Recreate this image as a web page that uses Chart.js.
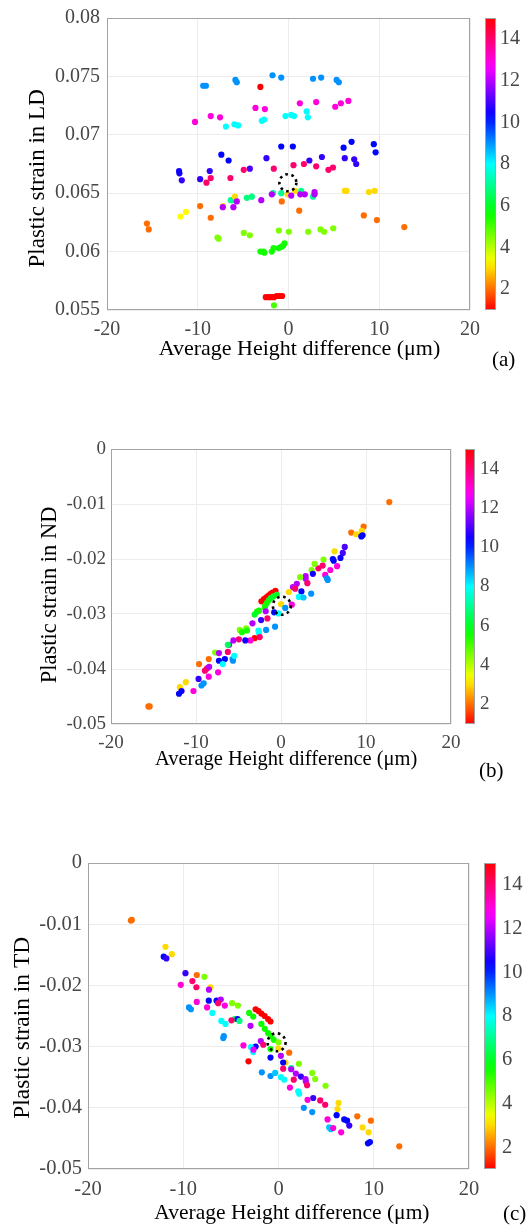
<!DOCTYPE html>
<html>
<head>
<meta charset="utf-8">
<script src="https://cdn.jsdelivr.net/npm/chart.js@4.4.1/dist/chart.umd.min.js"></script>
<style>
  html, body { margin: 0; padding: 0; background: #fff; }
  body { width: 527px; height: 1228px; position: relative; overflow: hidden; font-family: 'Liberation Serif', serif; }
  canvas { position: absolute; }
  .tag { position: absolute; font-size: 21px; line-height: 21px; color: #000; white-space: nowrap; }
</style>
</head>
<body>
<canvas id="ldChart"></canvas><canvas id="ldBar"></canvas>
<canvas id="ndChart"></canvas><canvas id="ndBar"></canvas>
<canvas id="tdChart"></canvas><canvas id="tdBar"></canvas>
<div class="tag" style="left:492px;top:349px">(a)</div>
<div class="tag" style="left:479px;top:760px">(b)</div>
<div class="tag" style="left:503px;top:1203px">(c)</div>
<script>
'use strict';

// colour scale (colorbar units)
const cbMin = 1;
const cbMax = 15;
const cbTicks = [2, 4, 6, 8, 10, 12, 14];

const xLabel = 'Average Height difference (\u03bcm)';
const xRange = [-20, 20];

// (a) strain in LD
const ldX = [-9.4, -9.1, -5.85, -5.7, -1.76, -0.8, 2.7, 3.6, 5.3, 5.55, -3.1,
  -10.3, -8.57, -7.54, -3.64, -2.6, 1.25, 3.05, 5.15, 5.77, 6.6,
  -6.9, -5.96, -5.55, -2.94, -2.68, -0.33, 0.3, 0.62, 2.0, 2.13,
  -0.8, 0.48, 6.07, 6.95, 9.4, 9.6, -7.4, -6.6, -2.43, 2.3, 3.68, 6.2, 7.24, 7.46, -4.26, -12.06, -12.02, -11.76, -9.74, -8.68,
  -4.93, -1.62, 0.55, 1.7, 3.05, 4.4, 4.9, -6.4, -9.04, -8.57,
  -1.7, -0.8, 1.4, 2.7, -6.36, -6.1, -4.6, -4.04,
  -5.9, -0.1, 0.73, 6.2, 6.4, 8.86, 9.5, -7.2,
  -5.7, -7.24, -6.07, -3.0, -1.84, 0.3, 1.3, 1.8, 2.87, 2.87,
  -0.74, -9.74, -8.57, 1.18, 8.3, 9.74, 12.76, -15.6, -15.4,
  -11.9, -11.3,
  -7.83, -7.7, -4.93, -4.26, -1.07, 0.04, 2.17, 3.53, 3.93, 4.93,
  -3.1, -2.76, -2.65, -1.84, -1.65, -1.07, -0.8, -0.6, -0.44, -1.6,
  -2.5, -2.2, -1.9, -1.6, -1.3, -1.0, -0.7];
const ldY = [0.0742, 0.0742, 0.0747, 0.0745, 0.0751, 0.0749, 0.0748, 0.0749, 0.0747, 0.0745, 0.0741,
  0.0711, 0.0716, 0.0715, 0.0723, 0.0722, 0.0727, 0.0728, 0.0724, 0.0727, 0.0729,
  0.0707, 0.0709, 0.0708, 0.0712, 0.0713, 0.0716, 0.0717, 0.0716, 0.072, 0.0715,
  0.069, 0.069, 0.0689, 0.0694, 0.0692, 0.0685, 0.0683, 0.0678, 0.068, 0.0678, 0.0681, 0.068, 0.0679, 0.0675, 0.0671, 0.0669, 0.0667, 0.0661, 0.0662, 0.0669,
  0.067, 0.0671, 0.0674, 0.0675, 0.0673, 0.067, 0.0672, 0.0663, 0.0659, 0.0663,
  0.065, 0.065, 0.0652, 0.0647, 0.0644, 0.0644, 0.0646, 0.0647,
  0.0647, 0.0649, 0.0652, 0.0652, 0.0652, 0.0651, 0.0652, 0.0639,
  0.0643, 0.0638, 0.0638, 0.0644, 0.0649, 0.0648, 0.0649, 0.0649, 0.0651, 0.0649,
  0.0643, 0.0639, 0.0629, 0.0635, 0.0631, 0.0627, 0.0621, 0.0624, 0.0619,
  0.063, 0.0634,
  0.0612, 0.0611, 0.0616, 0.0614, 0.0618, 0.0617, 0.0617, 0.0619, 0.0617, 0.062,
  0.06, 0.06, 0.0599, 0.06, 0.0603, 0.0603, 0.0604, 0.0605, 0.0607, 0.0554,
  0.0561, 0.0561, 0.0561, 0.0561, 0.0562, 0.0562, 0.0562];
const ldC = [9, 9, 9, 9, 9, 9, 9, 9, 9, 9, 15,
  13, 13, 13, 13, 13, 13, 13, 13, 13, 13,
  8, 8, 8, 8, 8, 8, 8, 8, 8, 8,
  10.3, 10.3, 10.3, 10.3, 10.3, 10.3, 10.3, 10.3, 10.8, 10.8, 10.8, 10.8, 10.8, 10.8, 11, 10.5, 10.5, 10.8, 10.8, 10.8,
  14, 14, 14, 14, 14, 14, 14, 14, 14, 14,
  7, 7, 7, 7, 7, 7, 6.8, 6.8,
  3, 3, 3, 3, 3, 3, 3, 3,
  12, 12, 12, 12, 12, 12, 12, 12, 12, 12,
  2, 2, 2, 2, 2, 2, 2, 2, 2,
  3.3, 3.3,
  4.5, 4.5, 4.5, 4.5, 4.5, 4.5, 4.5, 4.5, 4.5, 4.5,
  5.5, 5.5, 5.5, 5.5, 5.5, 5.5, 5.5, 5.5, 5.5, 5,
  1, 1, 1, 1, 1, 1, 1];

// (b) strain in ND
const ndX = [12.74, 8.26, 9.72, 8.85, 9.5, 9.45, 9.6, 7.5, 7.27, 7.0, 6.3, 6.1, 6.2, 6.6, 5.8, 5.2, 5.4, 5.5, 5.0, 4.9,
  4.4, 3.95, 3.6, 3.75, 2.9, 2.9, 3.1, 2.25, 2.4, 2.1, 2.65, 3.55, 1.86, 1.4, 1.67, 0.92, 1.27,
  -2.3, -2.0, -1.75, -1.5, -1.25, -1.0, -0.65,
  -2.85, -2.6, -3.1, -1.86, -1.67, -1.43, -1.2, -0.9, -0.5, -1.9,
  -1.8, -3.36, -2.34, -1.6, 0, -0.8, 0.5, -0.3, -0.7, -1.75, -2.65, -2.6,
  -4.85, -4.1, -4.6, -4.0, -3.1, -2.5, -3.6, -4.2, -4.96, -5.6, -6.1, -6.25, -6.25, -6.6, -7.3, -6.85, -5.7, -5.65, -5.5, -7.75, -7.3, -7.4,
  -9.64, -8.5, -8.95, -8.7, -8.45, -8.5, -9.36, -9.1, -9.7, -10.3, -11.2, -11.9, -11.7, -12.0, -15.45, -15.6];
const ndY = [-0.00965, -0.0152, -0.0141, -0.0155, -0.0149, -0.0159, -0.0157, -0.0178, -0.0189, -0.0198, -0.0186, -0.02, -0.0203, -0.0213, -0.022, -0.0229, -0.0235, -0.0238, -0.0201, -0.0212,
  -0.0217, -0.0209, -0.022, -0.0227, -0.0231, -0.0236, -0.0244, -0.0233, -0.0259, -0.0269, -0.027, -0.0263, -0.0245, -0.0251, -0.0254, -0.026, -0.0283,
  -0.0277, -0.0273, -0.027, -0.0267, -0.0264, -0.0261, -0.0258,
  -0.0296, -0.0294, -0.0301, -0.0285, -0.028, -0.0275, -0.0271, -0.0268, -0.0265, -0.0288,
  -0.0295, -0.0317, -0.0311, -0.0308, -0.0282, -0.0297, -0.0289, -0.0299, -0.0323, -0.0329, -0.033, -0.0334,
  -0.0329, -0.0326, -0.0333, -0.033, -0.0344, -0.0342, -0.0348, -0.0348, -0.0346, -0.0348, -0.0356, -0.0356, -0.0369, -0.0382, -0.0385, -0.0391, -0.0382, -0.0385, -0.0376, -0.037, -0.0371, -0.0406,
  -0.0391, -0.0382, -0.0403, -0.0399, -0.0396, -0.0414, -0.043, -0.0426, -0.0418, -0.044, -0.0424, -0.0433, -0.044, -0.0445, -0.0468, -0.0468];
const ndC = [2, 2, 2, 3, 3, 10.3, 10.3, 11, 11, 10.5, 3, 10.3, 10.3, 13, 13, 13, 9, 9, 4.5, 14,
  14, 4.5, 4.5, 10.5, 12, 12, 14, 4.5, 10.3, 8, 8.5, 9, 12, 12, 14, 3, 13,
  15, 15, 15, 15, 15, 15, 15,
  5.5, 5.5, 6, 5.5, 5.5, 5.5, 6, 6, 6, 5.5,
  12, 12, 10.8, 14, 3, 10.3, 9, 8, 9, 9, 8, 8,
  4.5, 4.5, 5.5, 5.5, 15, 14, 13, 10.5, 14, 12, 12, 6.5, 14, 10.3, 10.3, 8, 9, 9, 8, 4.5, 12, 13,
  2, 2, 14, 14, 12, 13, 9, 9, 10.8, 13, 3, 3, 10.5, 10.3, 2, 2];

// (c) strain in TD
const tdX = [-15.5, -15.4, -11.87, -11.2, -12.05, -11.77, -9.77, -8.58, -7.78, -9.04, -8.62, -10.26, -7.14, -7.3,
  -7.32, -6.5, -6.06, -6.34, -8.58, -7.5, -5.64, -9.4, -9.2, -6.94,
  -4.87, -4.27, -4.6, -4.3, -4.1, -4.94, -6.0, -5.57, -5.74, -5.8,
  -2.4, -2.1, -1.8, -1.45, -1.1, -0.84,
  -3.08, -2.66, -1.8, -1.44, -1.09, -0.74, -0.5, -0.84,
  0, -0.03, 0.74,
  -2.94, -1.86, -1.6, -2.4, -3.68, -2.9, -2.66, -2.63, -3.15,
  -0.84, 0.25, 0.49, 1.12, 0.49, 1.33, 1.33,
  -1.75, -0.84, -0.35, 0.25, 0.6,
  1.82, 2.35, 2.84, 2.87, 3.0, 1.6, 2.14, 3.54, 3.85, 4.94,
  1.2, 2.07, 2.17, 3.64, 3.05, 4.38, 4.9, 2.66, 3.54,
  6.3, 6.2, 6.1, 5.15, 5.32, 5.5, 5.74, 6.58, 6.9, 7.2, 7.43, 8.27, 9.7, 8.83, 9.46, 9.39, 9.6, 12.68];
const tdY = [-0.0094, -0.0093, -0.0137, -0.0149, -0.0153, -0.0156, -0.018, -0.0183, -0.0186, -0.0193, -0.0203, -0.0199, -0.0203, -0.0207,
  -0.0225, -0.0225, -0.0223, -0.0229, -0.0227, -0.0236, -0.0233, -0.0236, -0.0239, -0.0245,
  -0.0229, -0.0233, -0.0255, -0.0255, -0.0258, -0.0257, -0.0258, -0.0263, -0.0283, -0.0286,
  -0.0239, -0.0242, -0.0246, -0.025, -0.0255, -0.0259,
  -0.0245, -0.0251, -0.0263, -0.0271, -0.0278, -0.0283, -0.0289, -0.0304,
  -0.0293, -0.0303, -0.0326,
  -0.0266, -0.0291, -0.0297, -0.03, -0.0298, -0.0301, -0.0309, -0.0305, -0.0324,
  -0.0318, -0.0315, -0.0326, -0.031, -0.0336, -0.0335, -0.0337,
  -0.0342, -0.0348, -0.0343, -0.035, -0.0354,
  -0.0344, -0.0349, -0.0353, -0.0357, -0.0363, -0.0354, -0.0328, -0.0343, -0.0353, -0.0364,
  -0.0367, -0.0373, -0.0377, -0.0384, -0.0387, -0.0388, -0.0395, -0.04, -0.0407,
  -0.0392, -0.0402, -0.0412, -0.0419, -0.0432, -0.0435, -0.0433, -0.044, -0.0419, -0.0421, -0.0429, -0.0414, -0.0421, -0.0432, -0.044, -0.0458, -0.0456, -0.0463];
const tdC = [2, 2, 3, 3, 10.3, 10.8, 10.8, 2, 4.5, 14, 14, 13, 3, 12,
  10.3, 10.3, 12, 14, 13, 13, 13, 9, 9, 8,
  4.5, 4.5, 6.5, 10.5, 6.8, 14, 8, 8, 9, 9,
  15, 15, 15, 15, 15, 15,
  5.5, 5.5, 5.5, 5.5, 5.5, 5.5, 5.5, 5.5,
  4.5, 3, 3,
  12, 12, 14, 10.5, 13, 8, 8, 12.5, 15,
  10.3, 12, 10.3, 2, 14, 6.8, 12,
  9, 9, 8.5, 8, 8,
  12, 10.8, 12, 12, 14, 14, 4.5, 4.5, 4.5, 4.5,
  13, 8, 8, 10.8, 13, 14, 14, 9, 9,
  3, 3, 10.3, 13, 8.5, 8.5, 13, 13, 10.3, 10.3, 10.8, 2, 2, 3, 3, 10.3, 10.3, 2];

// dotted reference circle (data coords)
const ldMark = [-0.07, 0.0659];
const ndMark = [0.1, -0.0285];
const tdMark = [-0.2, -0.0293];

const FONT = "'Liberation Serif', 'Times New Roman', serif";
const TICK_COLOR = '#474747';
const FRAME_COLOR = '#a3a3a3';
const NBSP = '\u00a0';

// matlab hsv colormap
function hsvColor(v) {
  const h = (v - cbMin) / (cbMax - cbMin) * 360;
  return 'hsl(' + h.toFixed(1) + ', 100%, 50%)';
}

function fmt(v) {
  return String(+Number(v).toFixed(4));
}

const framePlugin = {
  id: 'frame',
  afterDraw(chart) {
    const {ctx, chartArea: a} = chart;
    ctx.save();
    ctx.strokeStyle = FRAME_COLOR;
    ctx.lineWidth = 1;
    ctx.strokeRect(a.left + 0.5, a.top + 0.5, a.width - 1, a.height - 1);
    ctx.restore();
  }
};

const markerPlugin = {
  id: 'marker',
  afterDatasetsDraw(chart, args, opts) {
    if (!opts || !opts.at) return;
    const ctx = chart.ctx;
    const cx = chart.scales.x.getPixelForValue(opts.at[0]);
    const cy = chart.scales.y.getPixelForValue(opts.at[1]);
    ctx.save();
    ctx.strokeStyle = '#000';
    ctx.lineWidth = 2.6;
    ctx.setLineDash([2.6, 3.6]);
    ctx.beginPath();
    ctx.arc(cx, cy, opts.r, 0, Math.PI * 2);
    ctx.stroke();
    ctx.restore();
  }
};

const cbFillPlugin = {
  id: 'cbFill',
  beforeDatasetsDraw(chart) {
    const {ctx, chartArea: a} = chart;
    const y = chart.scales.y;
    const g = ctx.createLinearGradient(0, y.getPixelForValue(cbMin), 0, y.getPixelForValue(cbMax));
    for (let i = 0; i <= 28; i++) {
      g.addColorStop(i / 28, hsvColor(cbMin + (cbMax - cbMin) * i / 28));
    }
    ctx.save();
    ctx.fillStyle = g;
    ctx.fillRect(a.left, a.top, a.width, a.height);
    ctx.strokeStyle = FRAME_COLOR;
    ctx.lineWidth = 1;
    ctx.strokeRect(a.left + 0.5, a.top + 0.5, a.width - 1, a.height - 1);
    ctx.restore();
  }
};

function place(canvas, box) {
  canvas.width = box.w;
  canvas.height = box.h;
  canvas.style.left = box.left + 'px';
  canvas.style.top = box.top + 'px';
  canvas.style.width = box.w + 'px';
  canvas.style.height = box.h + 'px';
}

function noPad(s) {
  s.paddingLeft = s.paddingRight = s.paddingTop = s.paddingBottom = 0;
}

function buildPanel(p) {
  const main = document.getElementById(p.id + 'Chart');
  place(main, p.box);
  const points = p.xs.map((x, i) => ({x: x, y: p.ys[i]}));
  // the source figure sets its axis titles a little off-centre
  const xTitle = NBSP.repeat(p.xShift) + xLabel;
  const yTitle = p.yLabel + NBSP.repeat(p.yShift);

  new Chart(main, {
    type: 'scatter',
    data: {
      datasets: [{
        data: points,
        pointRadius: 3.1,
        pointBorderWidth: 0,
        pointBackgroundColor: p.cs.map(hsvColor)
      }]
    },
    options: {
      responsive: false,
      animation: false,
      events: [],
      layout: {padding: {left: 0, top: p.padTop, right: p.padRight, bottom: 0}},
      plugins: {
        legend: {display: false},
        tooltip: {enabled: false},
        marker: {at: p.mark, r: p.markR}
      },
      scales: {
        x: {
          type: 'linear', min: xRange[0], max: xRange[1],
          grid: {color: '#ececec', drawTicks: false},
          border: {display: false},
          ticks: {stepSize: 10, padding: p.xTickPad, color: TICK_COLOR, font: {family: FONT, size: p.tickSize}, callback: fmt, maxRotation: 0},
          title: {display: true, text: xTitle, color: '#000', font: {family: FONT, size: p.xTitleSize, lineHeight: 1}, padding: {top: 0, bottom: p.xTitlePad}},
          afterFit: s => { s.height = p.xHeight; noPad(s); }
        },
        y: {
          type: 'linear', min: p.yRange[0], max: p.yRange[1],
          grid: {color: '#ececec', drawTicks: false},
          border: {display: false},
          ticks: {stepSize: p.yStep, padding: p.yTickPad, color: TICK_COLOR, font: {family: FONT, size: p.tickSize}, callback: fmt},
          title: {display: true, text: yTitle, color: '#000', font: {family: FONT, size: p.yTitleSize, lineHeight: 1}, padding: {top: p.yTitlePad, bottom: 0}},
          afterFit: s => { s.width = p.yWidth; noPad(s); }
        }
      }
    },
    plugins: [framePlugin, markerPlugin]
  });

  const bar = document.getElementById(p.id + 'Bar');
  place(bar, p.cbBox);
  new Chart(bar, {
    type: 'scatter',
    data: {datasets: []},
    options: {
      responsive: false,
      animation: false,
      events: [],
      layout: {padding: {left: 5, top: p.padTop, right: 0, bottom: p.xHeight + p.box.h - p.cbBox.h}},
      plugins: {legend: {display: false}, tooltip: {enabled: false}},
      scales: {
        x: {display: false, min: 0, max: 1},
        y: {
          position: 'right', min: cbMin, max: cbMax,
          grid: {display: false, drawTicks: false},
          border: {display: false},
          ticks: {padding: p.cbTickPad, color: TICK_COLOR, font: {family: FONT, size: p.tickSize}},
          afterBuildTicks: s => { s.ticks = cbTicks.map(v => ({value: v})); },
          afterFit: s => { s.width = p.cbBox.w - 5 - p.cbWidth; noPad(s); }
        }
      }
    },
    plugins: [cbFillPlugin]
  });
}

buildPanel({
  id: 'ld', xs: ldX, ys: ldY, cs: ldC, mark: ldMark, markR: 8.5,
  yLabel: 'Plastic strain in LD', yRange: [0.055, 0.08], yStep: 0.005,
  box: {left: 0, top: 0, w: 480, h: 370}, padTop: 18, padRight: 10,
  yWidth: 107, xHeight: 60, tickSize: 20, xTitleSize: 22, yTitleSize: 23,
  yTickPad: 7, yTitlePad: 26.5, xTickPad: 7.5, xTitlePad: 10,
  xShift: 4, yShift: 5,
  cbBox: {left: 480, top: 0, w: 47, h: 370}, cbWidth: 11, cbTickPad: 4
});

buildPanel({
  id: 'nd', xs: ndX, ys: ndY, cs: ndC, mark: ndMark, markR: 9,
  yLabel: 'Plastic strain in ND', yRange: [-0.05, 0], yStep: 0.01,
  box: {left: 0, top: 410, w: 460, h: 370}, padTop: 39, padRight: 9,
  yWidth: 111, xHeight: 56, tickSize: 19, xTitleSize: 20.5, yTitleSize: 22.5,
  yTickPad: 5, yTitlePad: 38.75, xTickPad: 8, xTitlePad: 9.75,
  xShift: 2, yShift: 3,
  cbBox: {left: 460, top: 410, w: 67, h: 370}, cbWidth: 10, cbTickPad: 5
});

buildPanel({
  id: 'td', xs: tdX, ys: tdY, cs: tdC, mark: tdMark, markR: 9,
  yLabel: 'Plastic strain in TD', yRange: [-0.05, 0], yStep: 0.01,
  box: {left: 0, top: 820, w: 479, h: 408}, padTop: 43, padRight: 10,
  yWidth: 88, xHeight: 59, tickSize: 20.5, xTitleSize: 21.5, yTitleSize: 23.5,
  yTickPad: 6, yTitlePad: 11.25, xTickPad: 8, xTitlePad: 4.25,
  xShift: 5, yShift: 4,
  cbBox: {left: 479, top: 820, w: 48, h: 408}, cbWidth: 12, cbTickPad: 6
});
</script>
</body>
</html>
